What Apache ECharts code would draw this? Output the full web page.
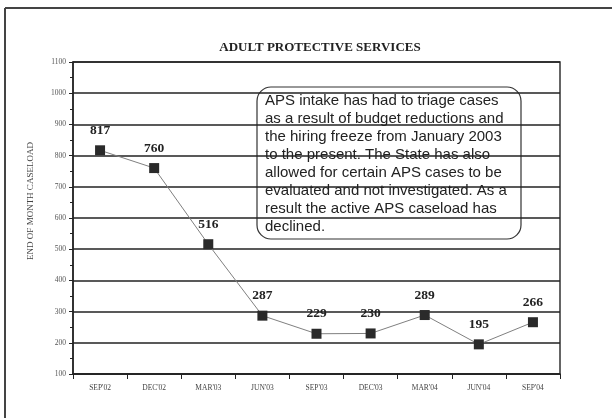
<!DOCTYPE html>
<html><head><meta charset="utf-8">
<script src="https://cdn.jsdelivr.net/npm/echarts@6/dist/echarts.min.js"></script>
<style>html,body{margin:0;padding:0;background:#fff}#c{width:613px;height:418px}</style>
</head><body><div id="c"></div>
<script>
const categories = ["SEP'02","DEC'02","MAR'03","JUN'03","SEP'03","DEC'03","MAR'04","JUN'04","SEP'04"];
const caseload = [817, 760, 516, 287, 229, 230, 289, 195, 266];
const titleText = "ADULT PROTECTIVE SERVICES";
const yAxisName = "END OF MONTH CASELOAD";
const noteLines = [
  "APS intake has had to triage cases",
  "as a result of budget reductions and",
  "the hiring freeze from January 2003",
  "to the present. The State has also",
  "allowed for certain APS cases to be",
  "evaluated and not investigated. As a",
  "result the active APS caseload has",
  "declined."
];
const serif = "'Liberation Serif','DejaVu Serif',serif";
const chart = echarts.init(document.getElementById('c'), null, {renderer:'canvas'});
chart.setOption({
  animation:false,
  backgroundColor:'#fff',
  title:{text:titleText,left:315,top:36,textAlign:'center',
    textStyle:{fontFamily:serif,fontSize:13,fontWeight:'bold',color:'#222'}},
  grid:{left:73,right:53,top:62,bottom:44,show:true,borderColor:'#333',borderWidth:1.5,backgroundColor:'transparent'},
  xAxis:{type:'category',data:categories,boundaryGap:true,
    axisLine:{lineStyle:{color:'#222',width:1.5}},
    axisTick:{show:true,length:5,inside:false,lineStyle:{color:'#222'}},
    axisLabel:{fontFamily:serif,fontSize:7.5,color:'#444',margin:10},
    splitLine:{show:false}},
  yAxis:{type:'value',min:100,max:1100,interval:100,
    name:yAxisName,nameLocation:'middle',nameGap:38,
    nameTextStyle:{fontFamily:serif,fontSize:9,color:'#444',padding:[0,0,0,34]},
    axisLine:{show:true,lineStyle:{color:'#222',width:1.5}},
    axisTick:{show:true,length:4,lineStyle:{color:'#222'}},
    minorTick:{show:true,splitNumber:2,length:3,lineStyle:{color:'#222'}},
    axisLabel:{fontFamily:serif,fontSize:7.5,color:'#555',margin:7,formatter:function(v){return String(v);}},
    splitLine:{show:true,lineStyle:{color:'#222',width:1.5}}},
  series:[{type:'line',data:caseload,symbol:'rect',symbolSize:10,
    lineStyle:{color:'#808080',width:1},
    itemStyle:{color:'#2a2a2a'},
    label:{show:true,position:'top',distance:8,fontFamily:serif,fontSize:13.5,fontWeight:'bold',color:'#222'}}],
  graphic:[
    {type:'line',shape:{x1:5,y1:8,x2:612,y2:8},style:{stroke:'#444',lineWidth:2}},
    {type:'line',shape:{x1:5,y1:8,x2:5,y2:418},style:{stroke:'#444',lineWidth:2}},
    {type:'rect',shape:{x:257,y:87,width:264,height:152,r:14},style:{fill:'transparent',stroke:'#333',lineWidth:1.2}},
    {type:'text',left:265,top:92,style:{text:noteLines.join('\n'),fontFamily:"'Liberation Sans',Arial,sans-serif",fontSize:15,lineHeight:18,fill:'#222'}}
  ]
});
</script></body></html>
